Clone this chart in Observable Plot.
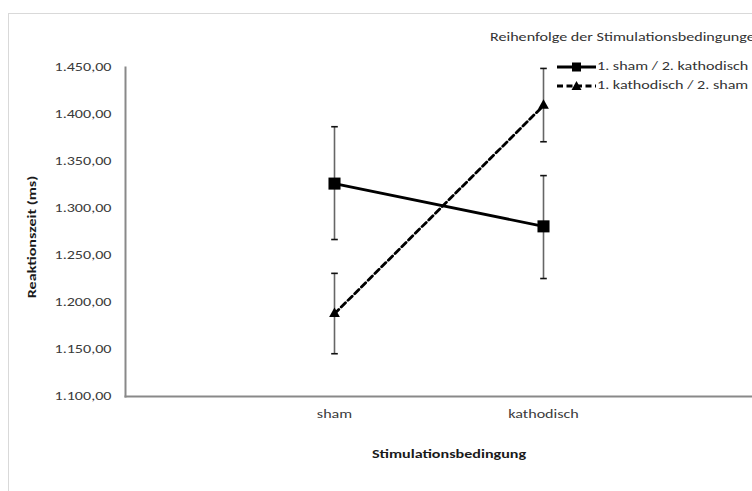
<!DOCTYPE html>
<html><head><meta charset="utf-8">
<script src="https://cdn.jsdelivr.net/npm/d3@7"></script>
<script src="https://cdn.jsdelivr.net/npm/@observablehq/plot@0.6"></script>
<style>
body{margin:0;background:#fff;}
#wrap{position:relative;width:752px;height:491px;overflow:hidden;font-family:Carlito,Lato,sans-serif;}
#border{position:absolute;left:8px;top:13px;width:900px;height:700px;border:1px solid #d9d9d9;}
#chart{position:absolute;left:0;top:0;}
.ttl{position:absolute;font-weight:bold;font-size:11.5px;color:#1a1a1a;white-space:nowrap;line-height:1;}
#xt{left:449px;top:449px;transform:translateX(-50%) scaleX(1.4);}
#yt{left:33px;top:237px;transform:translate(-50%,-50%) rotate(-90deg) scaleX(1.4);}
.lt{position:absolute;font-size:11.5px;color:#333;white-space:nowrap;line-height:1;transform-origin:0 50%;transform:scaleX(1.4);}
.ls{position:absolute;}
</style></head>
<body><div id="wrap"><div id="border"></div><div id="chart"></div>
<div class="ttl" id="xt"></div><div class="ttl" id="yt"></div>
<div id="legend"></div></div>
<script>
const categories = ["sham", "kathodisch"];
const seriesNames = ["1. sham / 2. kathodisch", "1. kathodisch / 2. sham"];
const meanShamFirst = [1326.5, 1281];
const lowShamFirst = [1267, 1225.5];
const highShamFirst = [1387, 1335];
const meanKathFirst = [1188, 1409.5];
const lowKathFirst = [1145.5, 1371];
const highKathFirst = [1231, 1449];
const yTicks = [1100, 1150, 1200, 1250, 1300, 1350, 1400, 1450];
const xTitle = "Stimulationsbedingung";
const yTitle = "Reaktionszeit (ms)";
const legendTitle = "Reihenfolge der Stimulationsbedingungen";

const de = d3.formatLocale({decimal: ",", thousands: ".", grouping: [3], currency: ["", "€"]});
const fmt = de.format(",.2f");

function rows(s, mean, low, high) {
  return categories.map((c, i) => ({series: s, cat: c, mean: mean[i], low: low[i], high: high[i]}));
}
const data = [
  ...rows(seriesNames[0], meanShamFirst, lowShamFirst, highShamFirst),
  ...rows(seriesNames[1], meanKathFirst, lowKathFirst, highKathFirst)
];
const s1 = data.filter(d => d.series === seriesNames[0]);
const s2 = data.filter(d => d.series === seriesNames[1]);

const cap = {draw(ctx, size) { const w = Math.sqrt(size / Math.PI); ctx.moveTo(-w, 0); ctx.lineTo(w, 0); }};

const chart = Plot.plot({
  width: 752, height: 491,
  marginLeft: 125, marginRight: 0, marginTop: 67, marginBottom: 95,
  style: {fontFamily: "Carlito, Lato, sans-serif", fontSize: "11.5px", color: "#444", background: "transparent"},
  x: {type: "point", domain: categories, padding: 1},
  y: {domain: [1100, 1450]},
  marks: [
    Plot.axisY({ticks: yTicks, tickFormat: fmt, tickSize: 0, tickPadding: 14, label: null, fill: "#3a3a3a"}),
    Plot.axisX({tickSize: 0, tickPadding: 13, label: null, fill: "#3a3a3a"}),
    Plot.frame({anchor: "left", stroke: "#898989", strokeWidth: 2}),
    Plot.frame({anchor: "bottom", stroke: "#898989", strokeWidth: 2}),
    Plot.ruleX(data, {x: "cat", y1: "low", y2: "high", stroke: "#666", strokeWidth: 1.6}),
    Plot.dot(data, {x: "cat", y: "low", symbol: cap, r: 3.3, stroke: "#111", strokeWidth: 1.6, fill: "none"}),
    Plot.dot(data, {x: "cat", y: "high", symbol: cap, r: 3.3, stroke: "#111", strokeWidth: 1.6, fill: "none"}),
    Plot.line(s1, {x: "cat", y: "mean", stroke: "#000", strokeWidth: 2.8}),
    Plot.line(s2, {x: "cat", y: "mean", stroke: "#000", strokeWidth: 2.8, strokeDasharray: "6,3.5"}),
    Plot.dot(s1, {x: "cat", y: "mean", symbol: "square", r: 6.8, fill: "#000", stroke: "none"}),
    Plot.dot(s2, {x: "cat", y: "mean", symbol: "triangle", r: 4, fill: "#000", stroke: "none"})
  ]
});
// the reference's lettering is horizontally stretched; widen each label about its anchor
chart.querySelectorAll("text").forEach(t => {
  const x = +(t.getAttribute("x") || 0);
  const tr = t.getAttribute("transform") || "";
  t.setAttribute("transform", `${tr} translate(${x},0) scale(1.4,1) translate(${-x},0)`);
});
document.getElementById("chart").appendChild(chart);
document.getElementById("xt").textContent = xTitle;
document.getElementById("yt").textContent = yTitle;

const lg = document.getElementById("legend");
lg.innerHTML = `<div class="lt" style="left:490px;top:32px">${legendTitle}</div>
<svg class="ls" style="left:557px;top:61px" width="40" height="12"><line x1="0" y1="6" x2="39" y2="6" stroke="#000" stroke-width="2.8"/><rect x="15" y="1.5" width="9" height="9" fill="#000"/></svg>
<div class="lt" style="left:597px;top:61px">${seriesNames[0]}</div>
<svg class="ls" style="left:557px;top:80px" width="40" height="12"><line x1="0" y1="6" x2="39" y2="6" stroke="#000" stroke-width="2.8" stroke-dasharray="6,3.5"/><path d="M19.5,1 L24.5,10 L14.5,10 Z" fill="#000"/></svg>
<div class="lt" style="left:597px;top:80px">${seriesNames[1]}</div>`;
</script></body></html>
